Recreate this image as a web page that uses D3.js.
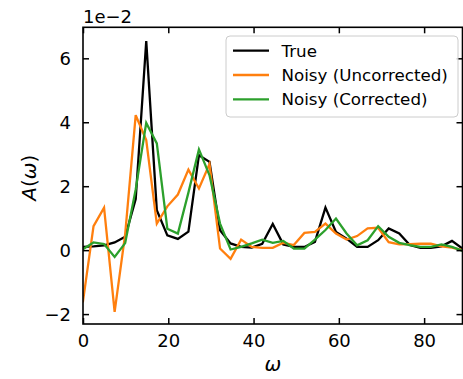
<!DOCTYPE html>
<html>
<head>
<meta charset="utf-8">
<script src="https://cdn.jsdelivr.net/npm/d3@7"></script>
<style>
  html, body { margin: 0; padding: 0; background: #fff; }
  svg { display: block; font-family: "DejaVu Sans", sans-serif; }
</style>
</head>
<body>
<svg id="chart" width="463" height="379"></svg>
<script>
// Frequency grid
const omega = [0, 2.47, 4.94, 7.42, 9.89, 12.36, 14.83, 17.31, 19.78, 22.25, 24.72, 27.19,
  29.67, 32.14, 34.61, 37.08, 39.56, 42.03, 44.5, 46.97, 49.44, 51.92, 54.39, 56.86,
  59.33, 61.81, 64.28, 66.75, 69.22, 71.69, 74.17, 76.64, 79.11, 81.58, 84.06, 86.53, 89.0];

// Spectral function A(ω), values in units of 1e-2
const trueA = [0.1, 0.12, 0.15, 0.24, 0.42, 1.6, 6.54, 1.25, 0.46, 0.35, 0.58, 2.97, 2.76,
  0.62, 0.21, 0.1, 0.08, 0.2, 0.82, 0.18, 0.1, 0.1, 0.26, 1.33, 0.57, 0.36, 0.1, 0.1,
  0.31, 0.68, 0.52, 0.16, 0.07, 0.07, 0.12, 0.29, 0.05];
const noisyUncorrected = [-1.6, 0.75, 1.33, -1.93, 0.5, 4.22, 3.44, 0.83, 1.37, 1.74, 2.52,
  1.93, 2.69, 0.05, -0.27, 0.33, 0.1, 0.07, 0.07, 0.23, 0.16, 0.54, 0.57, 0.83, 0.52, 0.33,
  0.44, 0.68, 0.7, 0.25, 0.18, 0.19, 0.2, 0.2, 0.12, 0.08, 0.0];
const noisyCorrected = [0.03, 0.24, 0.19, -0.21, 0.22, 1.9, 3.98, 3.34, 0.67, 0.52, 1.8,
  3.15, 2.34, 0.83, 0.02, 0.1, 0.21, 0.33, 0.23, 0.29, 0.05, 0.05, 0.33, 0.63, 0.99, 0.52,
  0.15, 0.31, 0.75, 0.42, 0.23, 0.16, 0.1, 0.1, 0.18, 0.1, -0.02];

const xTicks = [0, 20, 40, 60, 80];
const yTicks = [-2, 0, 2, 4, 6];

const seriesNames = ["True", "Noisy (Uncorrected)", "Noisy (Corrected)"];
const seriesColors = ["#000000", "#ff7f0e", "#2ca02c"];
const seriesValues = [trueA, noisyUncorrected, noisyCorrected];

const svg = d3.select("#chart");
const plot = { left: 83, right: 462.5, top: 27.3, bottom: 324 };

const x = d3.scaleLinear().domain([0, 89]).range([plot.left, plot.right]);
const y = d3.scaleLinear().domain([-2.31, 6.97]).range([plot.bottom, plot.top]);

const fmt = d => (d < 0 ? "\u2212" + Math.abs(d) : String(d));

// clip region for data lines
svg.append("defs").append("clipPath").attr("id", "clip")
  .append("rect")
  .attr("x", plot.left).attr("y", plot.top)
  .attr("width", plot.right - plot.left).attr("height", plot.bottom - plot.top);

// data lines
const line = d3.line()
  .x((d, i) => x(omega[i]))
  .y(d => y(d));

const lines = svg.append("g").attr("clip-path", "url(#clip)");
seriesValues.forEach((vals, k) => {
  lines.append("path")
    .datum(vals)
    .attr("d", line)
    .attr("fill", "none")
    .attr("stroke", seriesColors[k])
    .attr("stroke-width", 2.3)
    .attr("stroke-linejoin", "miter")
    .attr("stroke-linecap", "square");
});

// axes with inward ticks on all four sides
const tickLen = 6;
const axisStyle = g => {
  g.selectAll(".domain").remove();
  g.selectAll(".tick line").attr("stroke", "#000").attr("stroke-width", 1.5);
  g.selectAll(".tick text").attr("fill", "#000")
    .attr("font-family", "DejaVu Sans, sans-serif").attr("font-size", 18);
};

svg.append("g")
  .attr("transform", `translate(0,${plot.bottom})`)
  .call(d3.axisBottom(x).tickValues(xTicks).tickFormat(fmt)
    .tickSizeInner(-tickLen).tickSizeOuter(0).tickPadding(10))
  .call(axisStyle)
  .call(g => g.selectAll(".tick text").attr("dy", "0.71em"));

svg.append("g")
  .attr("transform", `translate(0,${plot.top})`)
  .call(d3.axisTop(x).tickValues(xTicks).tickFormat("")
    .tickSizeInner(-tickLen).tickSizeOuter(0))
  .call(axisStyle);

svg.append("g")
  .attr("transform", `translate(${plot.left},0)`)
  .call(d3.axisLeft(y).tickValues(yTicks).tickFormat(fmt)
    .tickSizeInner(-tickLen).tickSizeOuter(0).tickPadding(12))
  .call(axisStyle)
  .call(g => g.selectAll(".tick text").attr("dy", "0.36em"));

svg.append("g")
  .attr("transform", `translate(${plot.right},0)`)
  .call(d3.axisRight(y).tickValues(yTicks).tickFormat("")
    .tickSizeInner(-tickLen).tickSizeOuter(0))
  .call(axisStyle);

// frame
svg.append("rect")
  .attr("x", plot.left).attr("y", plot.top)
  .attr("width", plot.right - plot.left).attr("height", plot.bottom - plot.top)
  .attr("fill", "none").attr("stroke", "#000").attr("stroke-width", 1.6);

// offset text
svg.append("text")
  .attr("x", plot.left).attr("y", 22.5)
  .attr("font-size", 18).attr("fill", "#000")
  .text("1e\u22122");

// axis labels
const xl = svg.append("text")
  .attr("x", (plot.left + plot.right) / 2).attr("y", 371)
  .attr("text-anchor", "middle").attr("font-size", 20);
xl.append("tspan").attr("font-style", "italic").text("\u03c9");

const yl = svg.append("text")
  .attr("transform", `translate(36,${(plot.top + plot.bottom) / 2 + 2}) rotate(-90)`)
  .attr("text-anchor", "middle").attr("font-size", 20);
yl.append("tspan").attr("font-style", "italic").text("A");
yl.append("tspan").text("(");
yl.append("tspan").attr("font-style", "italic").text("\u03c9");
yl.append("tspan").text(")");

// legend
const lg = svg.append("g");
lg.append("rect")
  .attr("x", 226).attr("y", 36).attr("width", 232).attr("height", 81)
  .attr("rx", 4).attr("ry", 4)
  .attr("fill", "#fff").attr("fill-opacity", 0.8)
  .attr("stroke", "#cccccc").attr("stroke-width", 1);
seriesNames.forEach((name, k) => {
  const cy = 50.7 + k * 24.3;
  lg.append("line")
    .attr("x1", 233).attr("x2", 269).attr("y1", cy).attr("y2", cy)
    .attr("stroke", seriesColors[k]).attr("stroke-width", 2.3);
  lg.append("text")
    .attr("x", 281.5).attr("y", cy).attr("dy", "0.36em")
    .attr("font-size", 16.7).attr("fill", "#000")
    .text(name);
});
</script>
</body>
</html>
